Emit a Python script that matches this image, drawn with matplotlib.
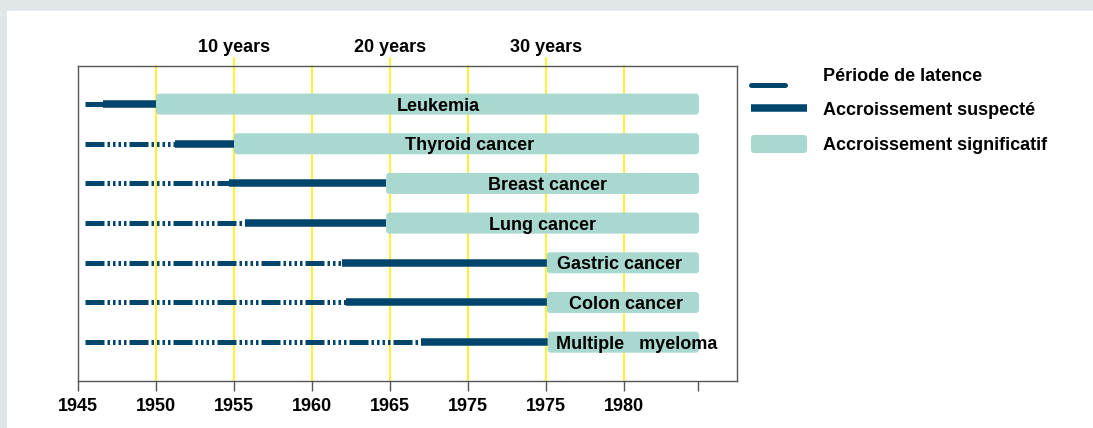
import matplotlib
matplotlib.use('Agg')
import matplotlib.pyplot as plt
from matplotlib.patches import FancyBboxPatch, Rectangle

plt.rcParams['font.family'] = ['Liberation Sans', 'DejaVu Sans']
plt.rcParams['font.weight'] = 'bold'

# data (years)
cancers = ['Leukemia', 'Thyroid cancer', 'Breast cancer', 'Lung cancer',
           'Gastric cancer', 'Colon cancer', 'Multiple   myeloma']
latency_start = [1945.45, 1945.45, 1945.45, 1945.45, 1945.45, 1945.45, 1945.45]
suspected_start = [1946.6, 1951.2, 1954.7, 1955.7, 1961.9, 1962.2, 1967.0]
significant_start = [1950.0, 1955.0, 1964.75, 1964.75, 1975.05, 1975.05, 1975.1]
significant_end = [1984.8, 1984.8, 1984.8, 1984.8, 1984.8, 1984.8, 1984.8]

tick_years = [1945, 1950, 1955, 1960, 1965, 1970, 1975, 1980, 1984.75]
tick_labels = ['1945', '1950', '1955', '1960', '1965', '1975', '1975', '1980', '']
grid_years = [1950, 1955, 1960, 1965, 1970, 1975, 1980]
top_years = [1955, 1965, 1975]
top_labels = ['10 years', '20 years', '30 years']

# label centers inside the teal bars
label_x = [1968.1, 1970.1, 1975.1, 1974.8, 1979.7, 1980.1, 1980.8]

navy = '#00456b'
teal = '#a9d8d0'
yellow = '#ffee10'
latency_dash = (0, (3.8, 0.6, 0.5, 0.6, 0.5, 0.6, 0.5, 0.6, 0.5, 0.6))

fig = plt.figure(figsize=(10.93, 4.28), dpi=100, facecolor='#e1e6e9')
fig.patches.append(Rectangle((7/1093, 0), 1 - 7/1093, 1 - 11/428,
                             transform=fig.transFigure, facecolor='white',
                             edgecolor='none', zorder=-1))

ax = fig.add_axes([78/1093, 47/428, 659/1093, 315/428])
ax.set_xlim(1945, 1987.24)
ax.set_ylim(6.98, -0.96)

for yr in grid_years:
    top = 1 + 8/315 if yr in top_years else 1
    ax.axvline(yr, ymin=0, ymax=top, color=yellow, lw=1.2, zorder=0, clip_on=False)

for yr, lab in zip(top_years, top_labels):
    ax.text(yr, 1 + 18/315, lab, transform=ax.get_xaxis_transform(),
            ha='center', va='center', fontsize=13, fontweight='bold')

for i, name in enumerate(cancers):
    ax.plot([latency_start[i], suspected_start[i]], [i, i], color=navy, lw=3.6,
            linestyle=latency_dash, solid_capstyle='butt', zorder=2)
    ax.plot([suspected_start[i], significant_start[i]], [i, i], color=navy, lw=5.4,
            solid_capstyle='butt', zorder=2)
    h = 0.53
    box = FancyBboxPatch((significant_start[i], i - h/2),
                         significant_end[i] - significant_start[i], h,
                         boxstyle='round,pad=0,rounding_size=0.2',
                         mutation_aspect=0.397, facecolor=teal, edgecolor='none',
                         zorder=3)
    ax.add_patch(box)
    ax.text(label_x[i], i, name, ha='center', va='center_baseline', fontsize=13,
            fontweight='bold', zorder=4, clip_on=False)

ax.set_xticks(tick_years)
ax.set_xticklabels(tick_labels, fontsize=13, fontweight='bold')
ax.set_yticks([])
ax.tick_params(axis='x', direction='out', length=7, width=1, color='#555555', pad=5)
for s in ax.spines.values():
    s.set_color('#555555')
    s.set_linewidth(1)

# legend drawn in pixel space
lg = fig.add_axes([0, 0, 1, 1], zorder=5)
lg.set_xlim(0, 1093)
lg.set_ylim(428, 0)
lg.axis('off')
lg.patch.set_alpha(0)
lg.plot([751, 785], [85, 85], color=navy, lw=3.6, solid_capstyle='round')
lg.plot([751, 807], [108, 108], color=navy, lw=5.4, solid_capstyle='butt')
lg.add_patch(FancyBboxPatch((751, 135), 56, 18, boxstyle='round,pad=0,rounding_size=3',
                            facecolor=teal, edgecolor='none'))
legend_labels = ['Période de latence', 'Accroissement suspecté', 'Accroissement significatif']
for y, lab in zip([74, 108, 144], legend_labels):
    lg.text(823, y, lab, ha='left', va='center_baseline', fontsize=13, fontweight='bold')

fig.savefig('out.png', dpi=100, facecolor=fig.get_facecolor())
